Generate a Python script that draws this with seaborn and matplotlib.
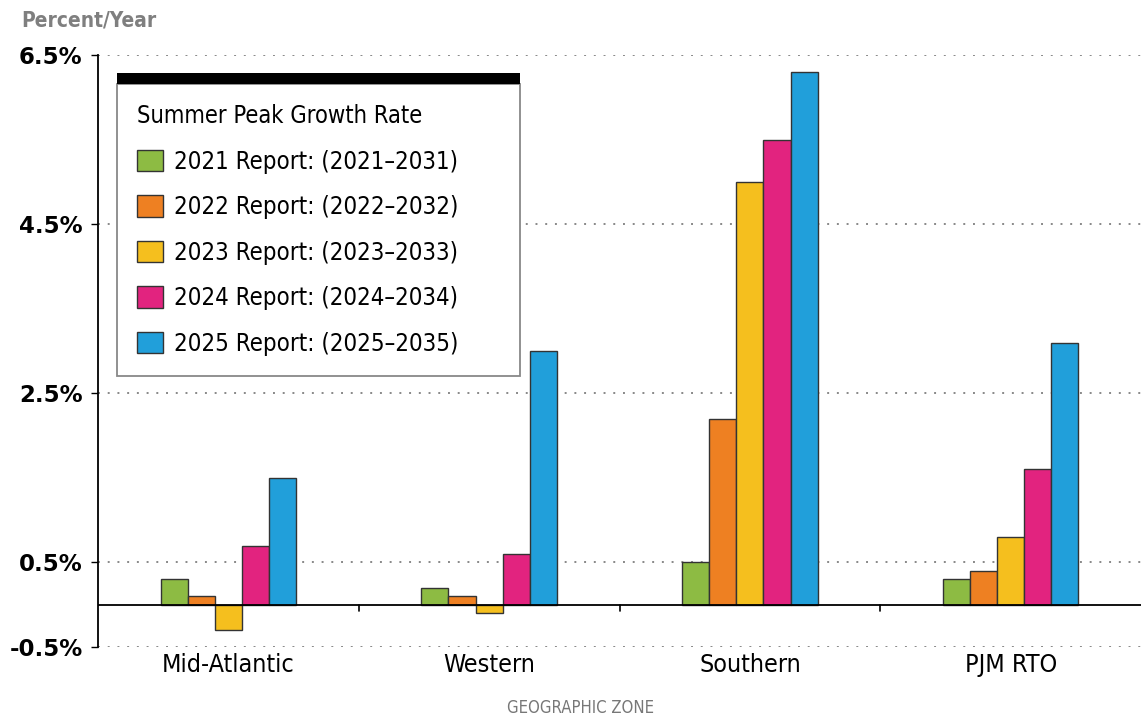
import matplotlib
matplotlib.use("Agg")
import matplotlib.pyplot as plt
from matplotlib.patches import Rectangle
import pandas as pd
import seaborn as sns

# ── Daten ────────────────────────────────────────────────────────────────
zones   = ["Mid-Atlantic", "Western", "Southern", "PJM RTO"]
reports = ["2021 Report: (2021\u20132031)",
           "2022 Report: (2022\u20132032)",
           "2023 Report: (2023\u20132033)",
           "2024 Report: (2024\u20132034)",
           "2025 Report: (2025\u20132035)"]
r2021 = [0.30, 0.20, 0.50, 0.30]
r2022 = [0.10, 0.10, 2.20, 0.40]
r2023 = [-0.30, -0.10, 5.00, 0.80]
r2024 = [0.70, 0.60, 5.50, 1.60]
r2025 = [1.50, 3.00, 6.30, 3.10]
colors = ["#8DBB43", "#EE8022", "#F5BF1E", "#E2237F", "#219FDA"]
y_ticks = [-0.5, 0.5, 2.5, 4.5, 6.5]

rows = []
for rep, vals in zip(reports, [r2021, r2022, r2023, r2024, r2025]):
    for z, v in zip(zones, vals):
        rows.append({"zone": z, "report": rep, "rate": v})
df = pd.DataFrame(rows)

sns.set_theme(style="white")
plt.rcParams["font.family"] = ["DejaVu Sans"]
plt.rcParams["font.stretch"] = "condensed"
plt.rcParams["text.color"] = "black"
plt.rcParams["xtick.color"] = "black"
plt.rcParams["ytick.color"] = "black"

fig = plt.figure(figsize=(11.41, 7.21), dpi=100)
ax = fig.add_axes([0.0859, 0.1026, 0.9141, 0.8211])

sns.barplot(data=df, x="zone", y="rate", hue="report", order=zones,
            hue_order=reports, palette=colors, width=0.52, gap=0,
            edgecolor="#333333", linewidth=1.0, saturation=1, ax=ax,
            zorder=3)

ax.set_xlim(-0.5, 3.5)
ax.set_ylim(-0.5, 6.5)
ax.set_yticks(y_ticks)
ax.set_yticklabels([f"{t:.1f}%" for t in y_ticks], fontsize=16.5,
                   fontweight="bold", fontstretch="normal")
ax.tick_params(axis="y", length=5, width=1, color="black", pad=6, left=True)
ax.tick_params(axis="x", length=0, labelsize=18, pad=4)

for t in y_ticks:
    ax.axhline(t, color="#888888", linestyle=(0, (1, 4)), linewidth=1.4,
               zorder=1)
ax.axhline(0, color="black", linewidth=1.3, zorder=4)
for xs in [0.5, 1.5, 2.5]:
    ax.axvline(xs, ymin=0.061, ymax=0.0714, color="black", linewidth=1.2)

for s in ["top", "right", "bottom"]:
    ax.spines[s].set_visible(False)
ax.spines["left"].set_color("black")
ax.spines["left"].set_linewidth(1.3)

ax.set_xlabel("")
ax.set_ylabel("")

fig.text(0.019, 0.972, "Percent/Year", fontsize=15, fontweight="bold",
         color="#7F7F7F", va="center", ha="left")
fig.text(0.509, 0.018, "GEOGRAPHIC ZONE", fontsize=12, color="#777777",
         ha="center", va="center")

leg = ax.legend(title="Summer Peak Growth Rate", loc="upper left",
                bbox_to_anchor=(0.018, 0.459, 0.387, 0.492), mode="expand",
                fontsize=17.2, title_fontsize=17, frameon=True,
                fancybox=False, edgecolor="#888888", framealpha=1,
                borderpad=0.85, labelspacing=0.9, handlelength=1.1,
                handleheight=1.0, handletextpad=0.45, borderaxespad=0)
leg._legend_box.align = "left"
leg.get_frame().set_linewidth(1.3)
for h in leg.legend_handles:
    h.set_edgecolor("#333333")
    h.set_linewidth(1.0)

fig.canvas.draw()
bb = leg.get_window_extent().transformed(fig.transFigure.inverted())
bar_h = 11 / 721
fig.patches.append(Rectangle((bb.x0, bb.y1), bb.width, bar_h,
                             transform=fig.transFigure, facecolor="black",
                             edgecolor="none", zorder=10))

fig.savefig("out.png", dpi=100)
